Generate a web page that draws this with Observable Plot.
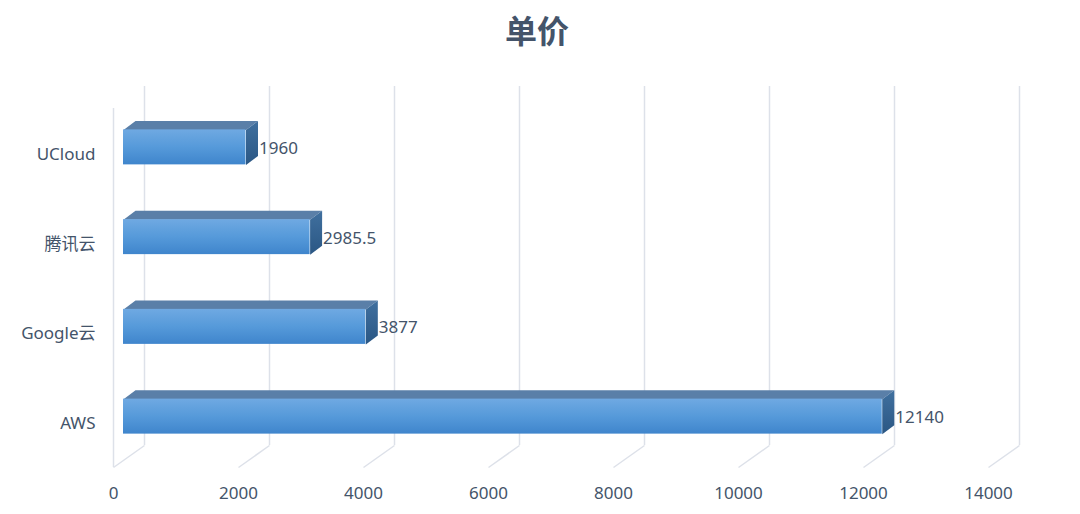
<!DOCTYPE html>
<html>
<head>
<meta charset="utf-8">
<script src="https://cdn.jsdelivr.net/npm/d3@7"></script>
<script src="https://cdn.jsdelivr.net/npm/@observablehq/plot@0.6"></script>
<style>
  html, body { margin: 0; padding: 0; background: #ffffff; }
  #title {
    height: 60px; line-height: 58px; text-align: center; padding-right: 6px;
    font-family: "Noto Sans CJK SC", "Noto Sans", sans-serif; font-weight: bold;
    font-size: 32px; color: #44546a;
  }
</style>
</head>
<body>
<div id="title">单价</div>
<div id="chart"></div>
<script>
// ---- data ----
const categories = ["AWS", "Google云", "腾讯云", "UCloud"]; // bottom to top
const values = [12140, 3877, 2985.5, 1960];
const valueLabels = ["12140", "3877", "2985.5", "1960"];
const xTicks = [0, 2000, 4000, 6000, 8000, 10000, 12000, 14000];

// ---- layout / style ----
const W = 1080, H = 454;
const xDomain = [0, 14000], xRange = [113, 988];
const yDomain = [-0.5, 3.5], yRange = [401, 42];
const ux = (xDomain[1] - xDomain[0]) / (xRange[1] - xRange[0]); // data units per px
const uy = (yDomain[1] - yDomain[0]) / (yRange[0] - yRange[1]);
const py = (Y) => yDomain[0] + (yRange[0] - Y) * uy; // svg px -> y data
const yFloor = py(407), yTop = py(48), yTick = py(433);
const WALL_DX = 31, WALL_DY = 22;      // depth of the chart box (px)
const BAR_OFF = 10, BAR_DX = 12, BAR_DY = 9, BAR_H = 35; // bar geometry (px)
const gridColor = "#dde1e9";
const textColor = "#44546a";
const font = "'Noto Sans', 'Noto Sans CJK SC', sans-serif";

const bars = categories.map((c, i) => ({ c, i, v: values[i], label: valueLabels[i] }));
const hh = BAR_H / 2 * uy, ddx = BAR_DX * ux, ddy = BAR_DY * uy;
const topFaces = bars.flatMap(b => [
  { id: b.c, x: 0, y: b.i + hh },
  { id: b.c, x: b.v, y: b.i + hh },
  { id: b.c, x: b.v + ddx, y: b.i + hh + ddy },
  { id: b.c, x: ddx, y: b.i + hh + ddy }
]);
const sideFaces = bars.flatMap(b => [
  { id: b.c, x: b.v, y: b.i + hh },
  { id: b.c, x: b.v + ddx, y: b.i + hh + ddy },
  { id: b.c, x: b.v + ddx, y: b.i - hh + ddy },
  { id: b.c, x: b.v, y: b.i - hh }
]);

const plot = Plot.plot({
  width: W, height: H,
  margin: 0,
  x: { domain: xDomain, range: xRange, axis: null },
  y: { domain: yDomain, range: yRange, axis: null },
  style: { fontFamily: font, fontSize: "17px", color: textColor, background: "#ffffff", overflow: "visible" },
  marks: [
    // back wall vertical gridlines
    Plot.ruleX(xTicks, { x: d => d, y1: () => yFloor, y2: () => yTop, dx: WALL_DX, dy: -WALL_DY, stroke: gridColor, strokeWidth: 1.5 }),
    // front-left wall edge
    Plot.ruleX([0], { x: d => d, y1: () => yFloor, y2: () => yTop, stroke: gridColor, strokeWidth: 1.5 }),
    // floor diagonals
    Plot.link(xTicks, { x1: d => d, y1: () => yFloor, x2: d => d + WALL_DX * ux, y2: () => yFloor + WALL_DY * uy, stroke: gridColor, strokeWidth: 1.5 }),
    // bars: top face
    Plot.line(topFaces, { x: "x", y: "y", z: "id", curve: "linear-closed", fill: "#5a7fa8", stroke: "none", dx: BAR_OFF }),
    // bars: side face
    Plot.line(sideFaces, { x: "x", y: "y", z: "id", curve: "linear-closed", fill: "url(#sideGrad)", stroke: "none", dx: BAR_OFF }),
    // bars: front face
    Plot.rect(bars, { x1: () => 0, x2: "v", y1: d => d.i - hh, y2: d => d.i + hh, fill: "url(#frontGrad)", dx: BAR_OFF }),
    // value labels
    Plot.text(bars, { x: "v", y: "i", text: "label", textAnchor: "start", dx: BAR_OFF + BAR_DX + 1, dy: 1, fill: textColor, fontSize: 17 }),
    // category labels
    Plot.text(bars, { x: () => 0, y: "i", text: "c", textAnchor: "end", dx: -18, dy: 7, fill: textColor, fontSize: 17 }),
    // x tick labels
    Plot.text(xTicks, { x: d => d, y: () => yTick, text: d => String(d), fill: textColor, fontSize: 17 })
  ]
});

const svg = plot.tagName.toLowerCase() === "svg" ? plot : plot.querySelector("svg");
const ns = "http://www.w3.org/2000/svg";
const defs = document.createElementNS(ns, "defs");
function grad(id, stops) {
  const g = document.createElementNS(ns, "linearGradient");
  g.setAttribute("id", id);
  g.setAttribute("x1", "0"); g.setAttribute("y1", "0");
  g.setAttribute("x2", "0"); g.setAttribute("y2", "1");
  for (const [o, c] of stops) {
    const s = document.createElementNS(ns, "stop");
    s.setAttribute("offset", o); s.setAttribute("stop-color", c);
    g.appendChild(s);
  }
  defs.appendChild(g);
}
grad("frontGrad", [["0", "#6fa9e2"], ["0.5", "#569ada"], ["1", "#3f85cc"]]);
grad("sideGrad", [["0", "#40709f"], ["1", "#2b5784"]]);
svg.insertBefore(defs, svg.firstChild);
document.getElementById("chart").appendChild(plot);
</script>
</body>
</html>
